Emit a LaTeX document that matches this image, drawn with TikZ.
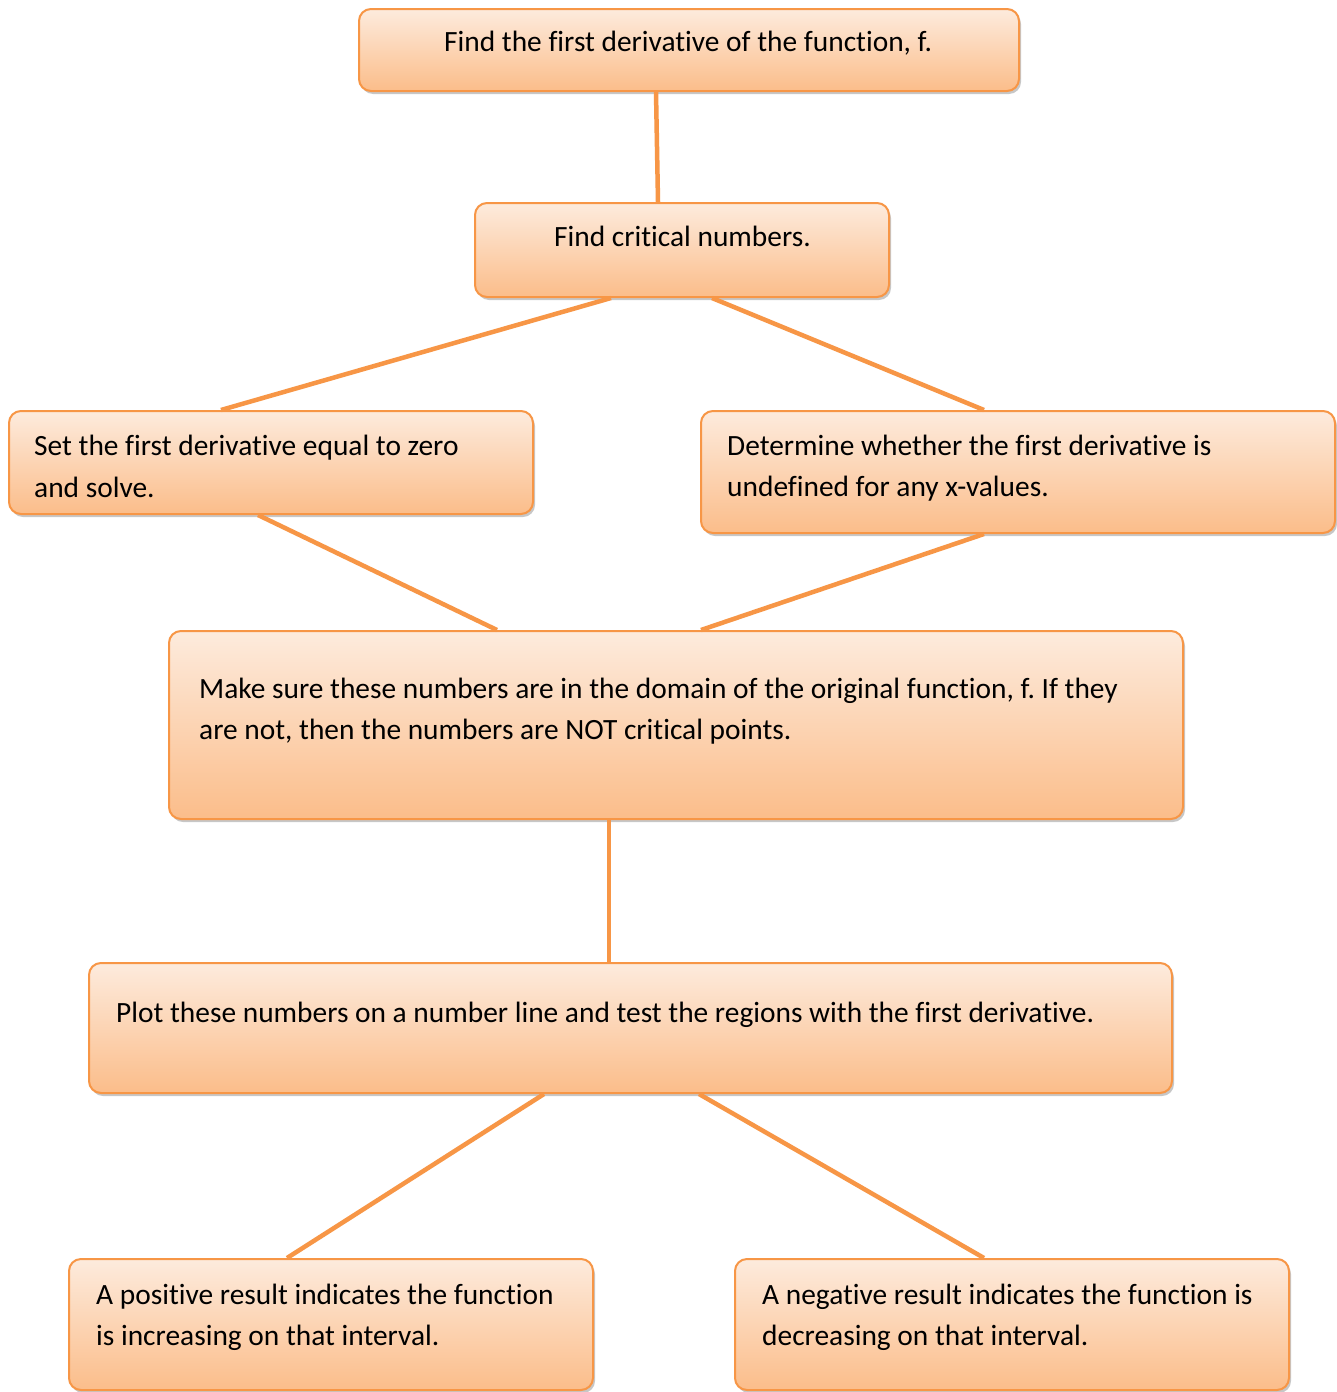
\documentclass[tikz,border=0pt]{standalone}
\usepackage{fontspec}
\setmainfont{Carlito}[Ligatures=NoCommon]
\frenchspacing
\usetikzlibrary{shadows}
\definecolor{boxline}{HTML}{F79646}
\definecolor{peachtop}{HTML}{FDEBDD}
\definecolor{peachbot}{HTML}{FBBD8A}
\definecolor{conn}{HTML}{F79646}
\tikzset{
  stepbox/.style={draw=boxline, line width=2pt, rounded corners=12pt,
    top color=peachtop, bottom color=peachbot, inner sep=0pt,
    drop shadow={shadow xshift=2pt, shadow yshift=-3pt, fill=black, opacity=0.22}},
  boxtext/.style={anchor=north west, inner sep=0pt, align=left,
    font=\fontsize{29.4}{41.5}\selectfont},
  link/.style={draw=conn, line width=4.5pt}
}
\newcommand{\firstline}{\rule{0pt}{23pt}}
\begin{document}
\begin{tikzpicture}[x=1pt,y=-1pt]
\useasboundingbox[fill=white] (0,0) rectangle (1336,1392);
% boxes
\node[stepbox, minimum width=660pt, minimum height=82pt] (b1) at (689,50) {};
\node[stepbox, minimum width=414pt, minimum height=94pt] (b2) at (682,250) {};
\node[stepbox, minimum width=524pt, minimum height=103pt] (b3) at (271,462.5) {};
\node[stepbox, minimum width=634pt, minimum height=122pt] (b4) at (1018,472) {};
\node[stepbox, minimum width=1014pt, minimum height=188pt] (b5) at (676,725) {};
\node[stepbox, minimum width=1083pt, minimum height=130pt] (b6) at (630.5,1028) {};
\node[stepbox, minimum width=524pt, minimum height=131pt] (b7) at (331,1324.5) {};
\node[stepbox, minimum width=554pt, minimum height=131pt] (b8) at (1012,1324.5) {};
% texts (north west = baseline - 23)
\node[boxtext] (t1) at (444,28.5) {\firstline Find the first derivative of the function, f.};
\node[boxtext] (t2) at (554,223) {\firstline Find critical numbers.};
\node[boxtext] (t3) at (34,432.5) {\firstline Set the first derivative equal to zero\\and solve.};
\node[boxtext] (t4) at (727,432) {\firstline Determine whether the first derivative is\\undefined for any x-values.};
\node[boxtext] (t5) at (199,675) {\firstline Make sure these numbers are in the domain of the original function, f. If they\\are not, then the numbers are NOT critical points.};
\node[boxtext] (t6) at (116,999) {\firstline Plot these numbers on a number line and test the regions with the first derivative.};
\node[boxtext] (t7) at (96,1281) {\firstline A positive result indicates the function\\is increasing on that interval.};
\node[boxtext] (t8) at (762,1281) {\firstline A negative result indicates the function is\\decreasing on that interval.};
% connectors
\draw[link] ([xshift=298pt]b1.south west) -- ([xshift=184pt]b2.north west);
\draw[link] ([xshift=137pt]b2.south west) -- ([xshift=213pt]b3.north west);
\draw[link] ([xshift=238pt]b2.south west) -- ([xshift=284pt]b4.north west);
\draw[link] ([xshift=250pt]b3.south west) -- ([xshift=329pt]b5.north west);
\draw[link] ([xshift=284pt]b4.south west) -- ([xshift=533pt]b5.north west);
\draw[link] ([xshift=441pt]b5.south west) -- ([xshift=521pt]b6.north west);
\draw[link] ([xshift=456pt]b6.south west) -- ([xshift=219pt]b7.north west);
\draw[link] ([xshift=611pt]b6.south west) -- ([xshift=250pt]b8.north west);
\end{tikzpicture}
\end{document}
